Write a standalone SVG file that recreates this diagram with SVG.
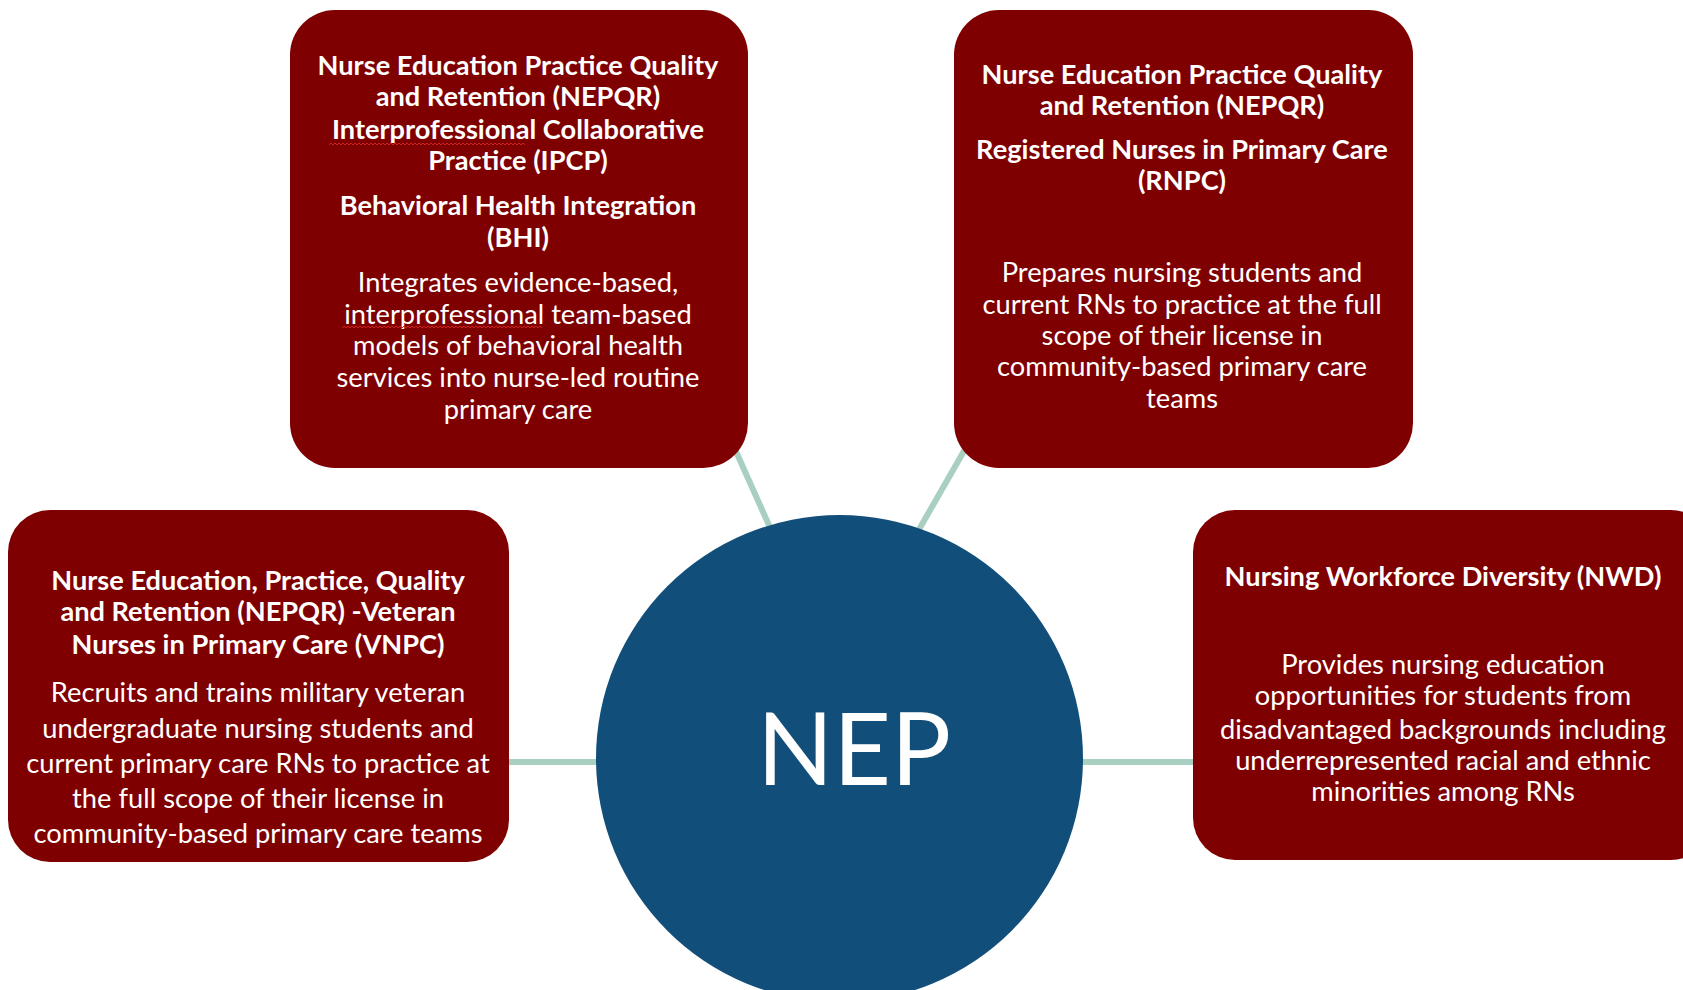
<svg xmlns="http://www.w3.org/2000/svg" width="1683" height="990" viewBox="0 0 1683 990">
<defs>
<style>
.box{fill:#7F0000;}
.hub{fill:#124E7A;}
.con line{stroke:#A9CFC1;stroke-width:6;stroke-linecap:butt;}
text{fill:#FFFFFF;font-family:Lato,"Open Sans","Liberation Sans",sans-serif;text-anchor:middle;}
.h{font-weight:bold;font-size:27.2px;}
.b{font-size:27.3px;}
.b2{font-size:27.3px;}
.hub-t{font-size:100px;}
.sq{fill:none;stroke:#D02020;stroke-width:1;}
</style>
</defs>
<rect width="1683" height="990" fill="#FFFFFF"/>
<g id="connectors" class="con">
<line x1="730" y1="438" x2="772" y2="532"/>
<line x1="972" y1="437" x2="917" y2="533"/>
<line x1="500" y1="762" x2="600" y2="762"/>
<line x1="1080" y1="762" x2="1200" y2="762"/>
</g>
<g id="hub">
<circle class="hub" cx="839.5" cy="758.5" r="243.5"/>
<text class="hub-t" x="854" y="785">NEP</text>
</g>
<g id="node-ipcp-bhi">
<rect class="box" x="290" y="10" width="458" height="458" rx="45" ry="45"/>
<g transform="translate(0,2)">
<text class="h" x="518" y="73">Nurse Education Practice Quality</text>
<text class="h" x="518" y="104">and Retention (NEPQR)</text>
<text class="h" x="518" y="137">Interprofessional Collaborative</text>
<text class="h" x="518" y="168">Practice (IPCP)</text>
<text class="h" x="518" y="213">Behavioral Health Integration</text>
<text class="h" x="518" y="245">(BHI)</text>
<text class="b" x="518" y="290">Integrates evidence-based,</text>
<text class="b" x="518" y="322">interprofessional team-based</text>
<text class="b" x="518" y="353">models of behavioral health</text>
<text class="b" x="518" y="385">services into nurse-led routine</text>
<text class="b" x="518" y="417">primary care</text>
<path class="sq" d="M329 143 l2 -2 l2 2 l2 -2 l2 2 l2 -2 l2 2 l2 -2 l2 2 l2 -2 l2 2 l2 -2 l2 2 l2 -2 l2 2 l2 -2 l2 2 l2 -2 l2 2 l2 -2 l2 2 l2 -2 l2 2 l2 -2 l2 2 l2 -2 l2 2 l2 -2 l2 2 l2 -2 l2 2 l2 -2 l2 2 l2 -2 l2 2 l2 -2 l2 2 l2 -2 l2 2 l2 -2 l2 2 l2 -2 l2 2 l2 -2 l2 2 l2 -2 l2 2 l2 -2 l2 2 l2 -2 l2 2 l2 -2 l2 2 l2 -2 l2 2 l2 -2 l2 2 l2 -2 l2 2 l2 -2 l2 2 l2 -2 l2 2 l2 -2 l2 2 l2 -2 l2 2 l2 -2 l2 2 l2 -2 l2 2 l2 -2 l2 2 l2 -2 l2 2 l2 -2 l2 2 l2 -2 l2 2 l2 -2 l2 2 l2 -2 l2 2 l2 -2 l2 2 l2 -2 l2 2 l2 -2 l2 2 l2 -2 l2 2 l2 -2 l2 2 l2 -2 l2 2 l2 -2 l2 2 l2 -2 l2 2"/>
<path class="sq" d="M342 326 l2 -2 l2 2 l2 -2 l2 2 l2 -2 l2 2 l2 -2 l2 2 l2 -2 l2 2 l2 -2 l2 2 l2 -2 l2 2 l2 -2 l2 2 l2 -2 l2 2 l2 -2 l2 2 l2 -2 l2 2 l2 -2 l2 2 l2 -2 l2 2 l2 -2 l2 2 l2 -2 l2 2 l2 -2 l2 2 l2 -2 l2 2 l2 -2 l2 2 l2 -2 l2 2 l2 -2 l2 2 l2 -2 l2 2 l2 -2 l2 2 l2 -2 l2 2 l2 -2 l2 2 l2 -2 l2 2 l2 -2 l2 2 l2 -2 l2 2 l2 -2 l2 2 l2 -2 l2 2 l2 -2 l2 2 l2 -2 l2 2 l2 -2 l2 2 l2 -2 l2 2 l2 -2 l2 2 l2 -2 l2 2 l2 -2 l2 2 l2 -2 l2 2 l2 -2 l2 2 l2 -2 l2 2 l2 -2 l2 2 l2 -2 l2 2 l2 -2 l2 2 l2 -2 l2 2 l2 -2 l2 2 l2 -2 l2 2 l2 -2 l2 2 l2 -2 l2 2 l2 -2 l2 2 l2 -2 l2 2 l2 -2 l2 2"/>
</g>
</g>
<g id="node-rnpc">
<rect class="box" x="954" y="10" width="459" height="458" rx="45" ry="45"/>
<g transform="translate(0,2)">
<text class="h" x="1182" y="82">Nurse Education Practice Quality</text>
<text class="h" x="1182" y="113">and Retention (NEPQR)</text>
<text class="h" x="1182" y="157">Registered Nurses in Primary Care</text>
<text class="h" x="1182" y="188">(RNPC)</text>
<text class="b" x="1182" y="280">Prepares nursing students and</text>
<text class="b" x="1182" y="312">current RNs to practice at the full</text>
<text class="b" x="1182" y="343">scope of their license in</text>
<text class="b" x="1182" y="374">community-based primary care</text>
<text class="b" x="1182" y="406">teams</text>
</g>
</g>
<g id="node-vnpc">
<rect class="box" x="8" y="510" width="501" height="352" rx="42" ry="42"/>
<g transform="translate(0,1)">
<text class="h" x="258" y="589">Nurse Education, Practice, Quality</text>
<text class="h" x="258" y="620">and Retention (NEPQR) -Veteran</text>
<text class="h" x="258" y="653">Nurses in Primary Care (VNPC)</text>
<text class="b2" x="258" y="701">Recruits and trains military veteran</text>
<text class="b2" x="258" y="737">undergraduate nursing students and</text>
<text class="b2" x="258" y="772">current primary care RNs to practice at</text>
<text class="b2" x="258" y="807">the full scope of their license in</text>
<text class="b2" x="258" y="842">community-based primary care teams</text>
</g>
</g>
<g id="node-nwd">
<rect class="box" x="1193" y="510" width="520" height="350" rx="42" ry="42"/>
<g transform="translate(0,1)">
<text class="h" x="1443" y="585">Nursing Workforce Diversity (NWD)</text>
<text class="b2" x="1443" y="673">Provides nursing education</text>
<text class="b2" x="1443" y="704">opportunities for students from</text>
<text class="b2" x="1443" y="738">disadvantaged backgrounds including</text>
<text class="b2" x="1443" y="769">underrepresented racial and ethnic</text>
<text class="b2" x="1443" y="800">minorities among RNs</text>
</g>
</g>
</svg>
